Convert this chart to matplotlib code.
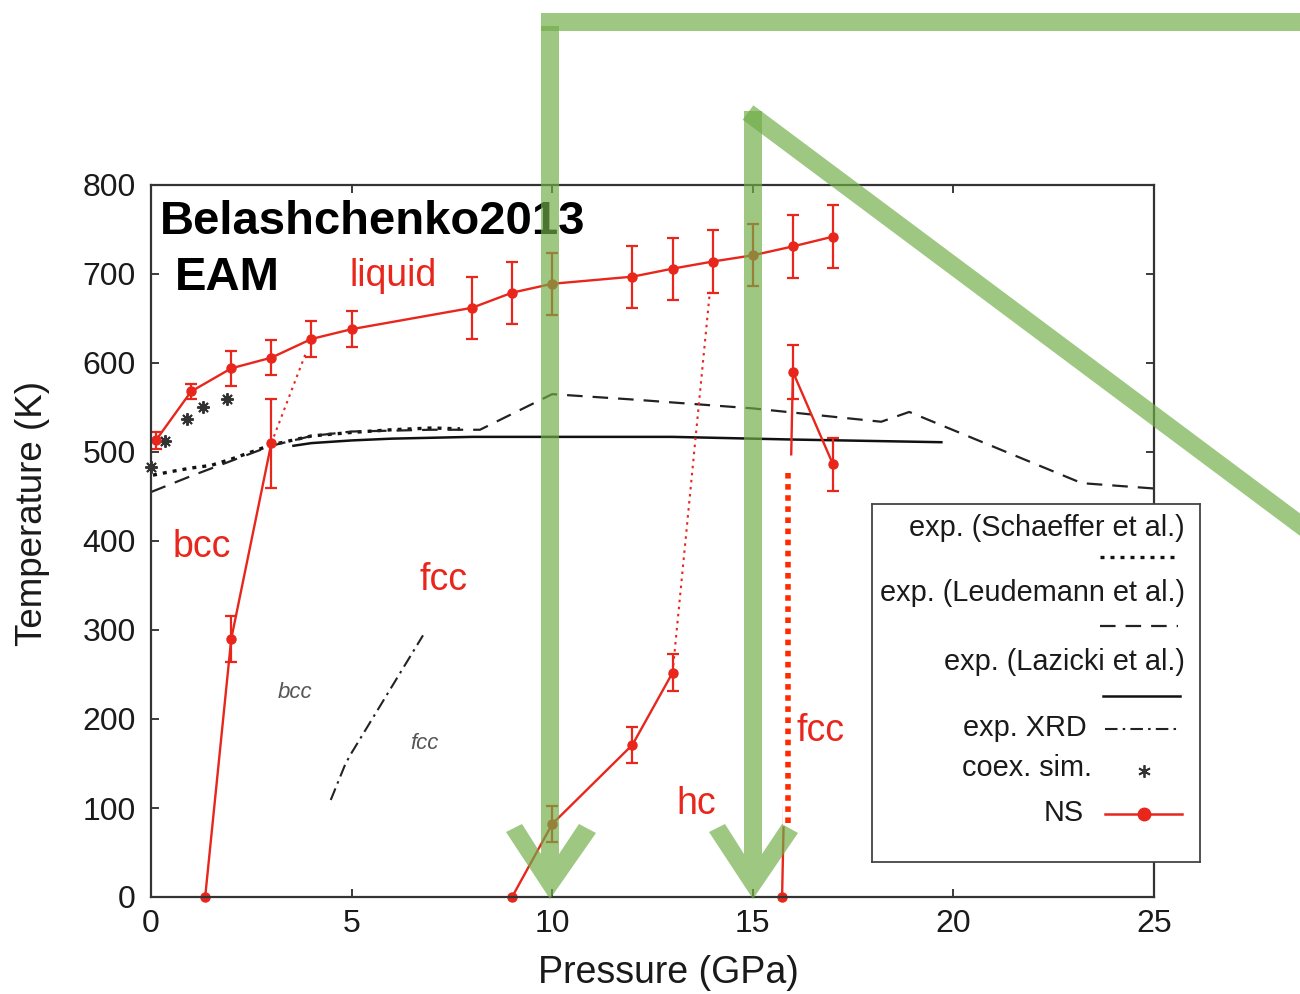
import numpy as np
import matplotlib
matplotlib.use("Agg")
import matplotlib.pyplot as plt
from matplotlib.patches import Polygon

plt.rcParams['font.family'] = ['Liberation Sans', 'DejaVu Sans']

# ---------------- data ----------------
# NS: liquid line
liq_P = [0.12, 1.0, 2.0, 3.0, 4.0, 5.0, 8.0, 9.0, 10.0, 12.0, 13.0, 14.0, 15.0, 16.0, 17.0]
liq_T = [513, 568, 594, 606, 627, 638, 662, 679, 689, 697, 706, 714, 721, 731, 742]
liq_E = [10, 8, 20, 20, 20, 20, 35, 35, 35, 35, 35, 35, 35, 35, 35]
# NS: bcc-fcc
bf_P = [1.35, 2.0, 3.0]
bf_T = [0, 290, 510]
bf_E = [0, 26, 50]
# NS: fcc-hc
fh_P = [9.0, 10.0, 12.0, 13.0]
fh_T = [0, 82, 171, 252]
fh_E = [0, 20, 20, 21]
# NS: hc-fcc (high pressure)
hf_P = [15.73, 16.0, 17.0]
hf_T = [0, 590, 486]
hf_E = [0, 30, 30]
# NS dotted connections
dot1_P = [3.0, 3.85]
dot1_T = [510, 610]
dot2_P = [13.0, 13.93]
dot2_T = [252, 680]
# thick dotted boundary
thick_P = [15.87, 15.87]
thick_T = [83, 480]
mask_T = [80, 497]

# experiments
sch_P = [0.05, 0.5, 1.0, 1.5, 2.0, 3.0, 4.0, 5.0, 6.0, 7.0, 7.7]
sch_T = [474, 478, 482, 485, 492, 508, 518, 522, 525, 527, 526]
leu_P = [0.0, 0.5, 1.0, 2.0, 3.0, 4.0, 5.0, 6.0, 7.0, 8.2, 10.0, 12.0, 15.0, 18.2, 18.9, 23.2, 25.0]
leu_T = [455, 464, 473, 490, 507, 518, 523, 524, 525, 525, 565, 559, 549, 534, 545, 465, 459]
laz_P = [3.55, 4.0, 5.0, 6.0, 7.0, 8.0, 10.0, 13.0, 16.0, 19.7]
laz_T = [507, 510, 513, 515, 516, 517, 517, 517, 514, 511]
xrd_P = [4.48, 4.85, 5.0, 6.78]
xrd_T = [109, 150, 162, 294]
coex_P = [0.0, 0.35, 0.9, 1.3, 1.9]
coex_T = [483, 512, 537, 551, 560]

xticks = [0, 5, 10, 15, 20, 25]
yticks = [0, 100, 200, 300, 400, 500, 600, 700, 800]

legend_labels = ["exp. (Schaeffer et al.)", "exp. (Leudemann et al.)",
                 "exp. (Lazicki et al.)", "exp. XRD", "coex. sim.", "NS"]

RED = '#e8261c'
BRIGHT = '#ff2a00'
GREEN = '#70ad47'
W, H = 1300, 994

fig = plt.figure(figsize=(W / 100, H / 100), dpi=100)
ax = fig.add_axes([151 / W, 1 - 897 / H, (1154 - 151) / W, (897 - 185) / H])
ax.set_xlim(0, 25)
ax.set_ylim(0, 800)

# experimental curves
ax.plot(sch_P, sch_T, color='#111111', lw=2.4, dashes=(1.2, 1.8))
ax.plot(leu_P, leu_T, color='#222222', lw=1.6, dashes=(7.0, 4.5))
ax.plot(laz_P, laz_T, color='#111111', lw=1.8)
ax.plot(xrd_P, xrd_T, color='#222222', lw=1.5, dashes=(6, 2.5, 1.2, 2.5))
ax.plot(coex_P, coex_T, ls='none', marker=(8, 2, 0), ms=9, mew=1.4, color='#333333', clip_on=False)

# NS
ekw = dict(color=RED, lw=1.7, marker='o', ms=6.5, elinewidth=1.6, capsize=4, capthick=1.6, clip_on=False)
for P, T, E in [(liq_P, liq_T, liq_E), (bf_P, bf_T, bf_E), (fh_P, fh_T, fh_E), (hf_P, hf_T, hf_E)]:
    eb = ax.errorbar(P, T, yerr=[e if e > 0 else np.nan for e in E], **ekw)
    eb[0].set_clip_on(False)
ax.plot(dot1_P, dot1_T, color=RED, lw=1.5, ls=(0, (1.2, 2.2)))
ax.plot(dot2_P, dot2_T, color=RED, lw=1.5, ls=(0, (1.2, 2.2)))
# white backing + thick dotted line
ax.plot(thick_P, mask_T, color='white', lw=9, solid_capstyle='butt', zorder=3)
ax.plot(thick_P, thick_T, color=BRIGHT, lw=4.0, dashes=(1.0, 1.0), dash_capstyle='butt', zorder=4)

# texts
ax.text(0.22, 758, "Belashchenko2013", fontsize=34, fontweight='bold', va='center', ha='left', color='black')
ax.text(0.6, 695, "EAM", fontsize=34, fontweight='bold', va='center', ha='left', color='black')
ax.text(4.95, 698, "liquid", fontsize=27, color=RED, va='center', ha='left')
ax.text(0.55, 393, "bcc", fontsize=27, color=RED, va='center', ha='left')
ax.text(6.7, 356, "fcc", fontsize=27, color=RED, va='center', ha='left')
ax.text(13.1, 104, "hc", fontsize=27, color=RED, va='center', ha='left')
ax.text(16.1, 186, "fcc", fontsize=27, color=RED, va='center', ha='left')
ax.text(3.15, 230, "bcc", fontsize=16, color='#555555', style='italic', va='center', ha='left')
ax.text(6.47, 172, "fcc", fontsize=16, color='#555555', style='italic', va='center', ha='left')

ax.set_xticks(xticks)
ax.set_yticks(yticks)
ax.tick_params(direction='in', length=6, width=1.2, top=True, right=True, labelsize=23,
               colors='#1a1a1a', pad=9)
ax.tick_params(axis='y', pad=11)
for s in ax.spines.values():
    s.set_color('#333333')
    s.set_linewidth(1.6)
ax.set_xlabel("Pressure (GPa)", fontsize=27, color='#1a1a1a')
ax.set_ylabel("Temperature (K)", fontsize=26.5, color='#1a1a1a')
ax.xaxis.set_label_coords((668 - 151) / 1003, -(955 - 897) / 712)
ax.yaxis.set_label_coords((50 - 151) / 1003, (897 - 514) / 712)

# legend (drawn manually, gnuplot style)
lx0, ly0, lx1, ly1 = 872, 504, 1200, 862
lg = fig.add_axes([lx0 / W, 1 - ly1 / H, (lx1 - lx0) / W, (ly1 - ly0) / H])
lg.set_zorder(5)
lg.set_xlim(0, lx1 - lx0)
lg.set_ylim(ly1 - ly0, 0)
lg.set_xticks([])
lg.set_yticks([])
for s in lg.spines.values():
    s.set_color('#444444')
    s.set_linewidth(1.3)
lfs = 20.8
lg.text(313, 24, legend_labels[0], fontsize=lfs, ha='right', va='center', color='#1a1a1a')
lg.plot([228, 308], [53, 53], color='#111111', lw=2.4, dashes=(1.2, 1.8))
lg.text(313, 89, legend_labels[1], fontsize=lfs, ha='right', va='center', color='#1a1a1a')
lg.plot([228, 306], [122, 122], color='#222222', lw=1.6, dashes=(7.0, 4.5))
lg.text(313, 158, legend_labels[2], fontsize=lfs, ha='right', va='center', color='#1a1a1a')
lg.plot([231, 308], [192, 192], color='#111111', lw=1.8)
lg.text(215, 224, legend_labels[3], fontsize=lfs, ha='right', va='center', color='#1a1a1a')
lg.plot([233, 307], [225, 225], color='#222222', lw=1.5, dashes=(6, 2.5, 1.2, 2.5))
lg.text(220, 264, legend_labels[4], fontsize=lfs, ha='right', va='center', color='#1a1a1a')
lg.plot([272], [267], ls='none', marker=(6, 2, 0), ms=9, mew=1.3, color='#333333')
lg.text(212, 309, legend_labels[5], fontsize=lfs, ha='right', va='center', color='#1a1a1a')
lg.plot([233, 310], [310, 310], color=RED, lw=1.8)
lg.plot([272], [310], color=RED, marker='o', ms=9)

# green annotation overlay (figure pixel coordinates)
def fpts(pts):
    return [(x / W, 1 - y / H) for x, y in pts]

def gpoly(pts):
    p = Polygon(fpts(pts), closed=True, transform=fig.transFigure, facecolor=GREEN,
                edgecolor='none', alpha=0.68, zorder=20)
    fig.add_artist(p)

gpoly([(541, 13), (1310, 13), (1310, 31), (541, 31)])
gpoly([(541, 26), (559, 26), (559, 854), (579, 824), (596, 833), (550, 899),
       (506, 832), (522, 824), (541, 854)])
gpoly([(744, 111), (762, 111), (762, 854), (782, 824), (798, 833), (753, 899),
       (709, 832), (725, 824), (744, 854)])
# diagonal band
x0, y0, x1, y1 = 748, 112.5, 1330, 547
dx, dy = x1 - x0, y1 - y0
L = np.hypot(dx, dy)
nx, ny = -dy / L * 9, dx / L * 9
gpoly([(x0 + nx, y0 + ny), (x1 + nx, y1 + ny), (x1 - nx, y1 - ny), (x0 - nx, y0 - ny)])

fig.savefig("out.png", dpi=100)
